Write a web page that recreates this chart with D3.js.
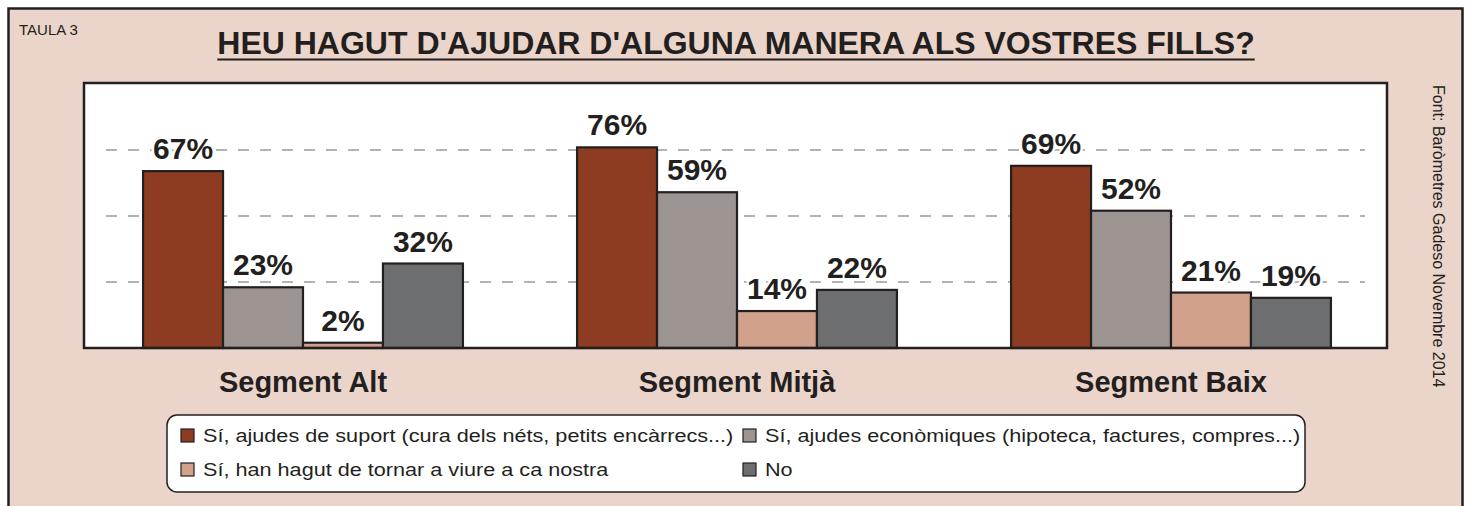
<!DOCTYPE html>
<html>
<head>
<meta charset="utf-8">
<script src="https://cdn.jsdelivr.net/npm/d3@7"></script>
<style>
  html, body { margin: 0; padding: 0; background: #fff; }
  svg { display: block; }
</style>
</head>
<body>
<div id="chart"></div>
<script>
// Dades
const categories = ['Segment Alt', 'Segment Mitjà', 'Segment Baix'];
const seriesNames = [
  'Sí, ajudes de suport (cura dels néts, petits encàrrecs...)',
  'Sí, ajudes econòmiques (hipoteca, factures, compres...)',
  'Sí, han hagut de tornar a viure a ca nostra',
  'No'
];
const supportValues = [67, 76, 69];
const economicValues = [23, 59, 52];
const returnHomeValues = [2, 14, 21];
const noValues = [32, 22, 19];
const gridTicks = [25, 50, 75];

const seriesColors = ['#8d3b21', '#9c9491', '#d1a18b', '#6d6e70'];
const seriesValues = [supportValues, economicValues, returnHomeValues, noValues];

const W = 1467, H = 506;
const INK = '#231f20';
const BG = '#ebd5ca';
const FONT = 'Liberation Sans, Arial, Helvetica, sans-serif';

const plot = { x0: 84, x1: 1387, y0: 83, y1: 348 };

const svg = d3.select('#chart').append('svg')
  .attr('width', W).attr('height', H);

// Marc exterior
svg.append('rect')
  .attr('x', 8.5).attr('y', 8.5)
  .attr('width', 1454).attr('height', H + 10)
  .attr('fill', BG)
  .attr('stroke', INK).attr('stroke-width', 2.5);

svg.append('text')
  .attr('x', 19).attr('y', 35)
  .attr('font-family', FONT).attr('font-size', 15)
  .attr('fill', INK)
  .text('TAULA 3');

// Títol
const title = svg.append('text')
  .attr('x', 736).attr('y', 54)
  .attr('text-anchor', 'middle')
  .attr('font-family', FONT).attr('font-size', 32).attr('font-weight', 700)
  .attr('fill', INK)
  .text("HEU HAGUT D'AJUDAR D'ALGUNA MANERA ALS VOSTRES FILLS?");
const tb = title.node().getBBox();
svg.append('line')
  .attr('x1', tb.x).attr('x2', tb.x + tb.width)
  .attr('y1', 59.5).attr('y2', 59.5)
  .attr('stroke', INK).attr('stroke-width', 2.2);

// Àrea del gràfic
svg.append('rect')
  .attr('x', plot.x0).attr('y', plot.y0)
  .attr('width', plot.x1 - plot.x0).attr('height', plot.y1 - plot.y0)
  .attr('fill', '#fff');

const x = d3.scaleBand()
  .domain(categories)
  .range([plot.x0 + 2, plot.x1 + 1])
  .paddingInner(0.263)
  .paddingOuter(0.1315);

const xs = d3.scaleBand()
  .domain(d3.range(seriesNames.length))
  .range([0, x.bandwidth()]);

const y = d3.scaleLinear().domain([0, 100]).range([plot.y1, plot.y1 - 264]);

// Línies de referència
svg.append('g')
  .selectAll('line')
  .data(gridTicks)
  .join('line')
  .attr('x1', plot.x0 + 22).attr('x2', plot.x1 - 22)
  .attr('y1', d => y(d)).attr('y2', d => y(d))
  .attr('stroke', '#b3b3b3').attr('stroke-width', 2.2)
  .attr('stroke-dasharray', '11,11');

// Barres
const bars = [];
categories.forEach((c, ci) => {
  seriesValues.forEach((vals, si) => {
    bars.push({ cat: c, s: si, v: vals[ci] });
  });
});

svg.append('g')
  .selectAll('rect')
  .data(bars)
  .join('rect')
  .attr('x', d => x(d.cat) + xs(d.s))
  .attr('y', d => y(d.v))
  .attr('width', xs.bandwidth())
  .attr('height', d => y(0) - y(d.v))
  .attr('fill', d => seriesColors[d.s])
  .attr('stroke', INK).attr('stroke-width', 2.2);

// Etiquetes de valor
svg.append('g')
  .selectAll('text')
  .data(bars)
  .join('text')
  .attr('x', d => x(d.cat) + xs(d.s) + xs.bandwidth() / 2)
  .attr('y', d => y(d.v) - 12)
  .attr('text-anchor', 'middle')
  .attr('font-family', FONT).attr('font-size', 30).attr('font-weight', 700)
  .attr('fill', INK)
  .attr('stroke', '#fff').attr('stroke-width', 5)
  .attr('paint-order', 'stroke')
  .text(d => d.v + '%');

// Vora del gràfic
svg.append('rect')
  .attr('x', plot.x0).attr('y', plot.y0)
  .attr('width', plot.x1 - plot.x0).attr('height', plot.y1 - plot.y0)
  .attr('fill', 'none')
  .attr('stroke', INK).attr('stroke-width', 2.5);

// Categories
svg.append('g')
  .selectAll('text')
  .data(categories)
  .join('text')
  .attr('x', d => x(d) + x.bandwidth() / 2)
  .attr('y', 392)
  .attr('text-anchor', 'middle')
  .attr('font-family', FONT).attr('font-size', 29).attr('font-weight', 700)
  .attr('fill', INK)
  .text(d => d);

// Font
svg.append('text')
  .attr('transform', 'translate(1433,85) rotate(90)')
  .attr('font-family', FONT).attr('font-size', 16)
  .attr('fill', INK)
  .text('Font: Baròmetres Gadeso Novembre 2014');

// Llegenda
svg.append('rect')
  .attr('x', 167).attr('y', 415)
  .attr('width', 1138).attr('height', 77)
  .attr('rx', 10).attr('ry', 10)
  .attr('fill', '#fff')
  .attr('stroke', INK).attr('stroke-width', 1.5);

const legendPos = [
  { x: 181, y: 429 },
  { x: 743, y: 429 },
  { x: 181, y: 463 },
  { x: 743, y: 463 }
];

const lg = svg.append('g')
  .selectAll('g')
  .data(seriesNames)
  .join('g')
  .attr('transform', (d, i) => `translate(${legendPos[i].x},${legendPos[i].y})`);

lg.append('rect')
  .attr('width', 13).attr('height', 13)
  .attr('fill', (d, i) => seriesColors[i])
  .attr('stroke', INK).attr('stroke-width', 1.2);

// el text de la llegenda és una mica eixamplat a l'original
lg.append('text')
  .attr('transform', 'translate(22,12.5) scale(1.17,1)')
  .attr('font-family', FONT).attr('font-size', 18.5)
  .attr('fill', INK)
  .text(d => d);
</script>
</body>
</html>
